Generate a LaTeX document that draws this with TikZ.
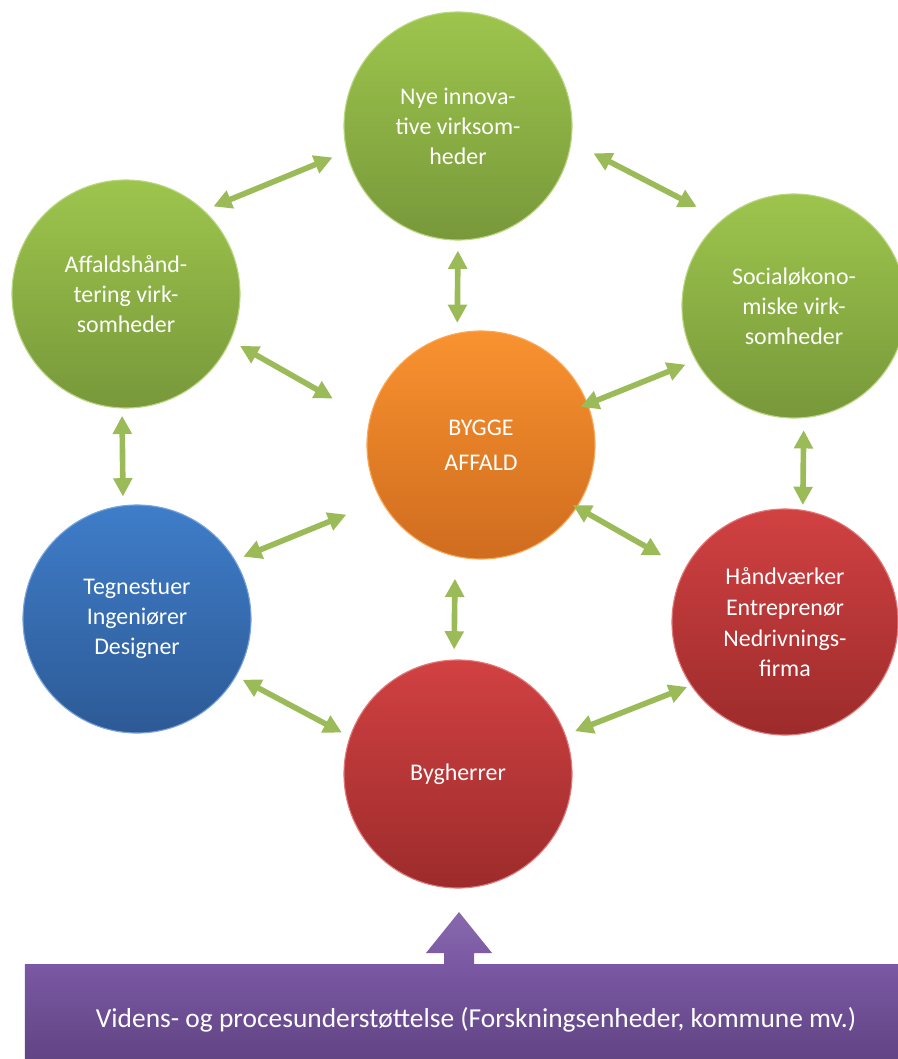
\documentclass[tikz,border=0pt]{standalone}
\usepackage{fontspec}
\setmainfont{Carlito}
\usepackage{xcolor}
\usetikzlibrary{arrows.meta}

\definecolor{gronlys}{HTML}{9DC54D}
\definecolor{gronmork}{HTML}{78983A}
\definecolor{oranlys}{HTML}{F9922F}
\definecolor{oranmork}{HTML}{CF6C1F}
\definecolor{blalys}{HTML}{3F7DC9}
\definecolor{blamork}{HTML}{2D5A96}
\definecolor{rodlys}{HTML}{D14142}
\definecolor{rodmork}{HTML}{9D2B2B}
\definecolor{lilalys}{HTML}{7A58A3}
\definecolor{lilamork}{HTML}{5D417F}
\definecolor{pilgron}{HTML}{9BBB59}

\tikzset{
  kreds/.style={circle, minimum size=5.7cm, inner sep=0pt, align=center,
    text=white, font=\fontsize{17}{21.3}\selectfont, line width=0.8pt},
  gron/.style={kreds, top color=gronlys, bottom color=gronmork, draw=gronlys!70!white},
  oran/.style={kreds, top color=oranlys, bottom color=oranmork, draw=oranlys!80!white},
  bla/.style={kreds, top color=blalys, bottom color=blamork, draw=blalys!70!white},
  rod/.style={kreds, top color=rodlys, bottom color=rodmork, draw=rodlys!70!white},
  pil/.style={draw=pilgron, line width=4pt,
    {Triangle[length=13pt,width=13pt]}-{Triangle[length=13pt,width=13pt]}},
}

\begin{document}
\begin{tikzpicture}[x=0.025cm, y=-0.025cm]
        \useasboundingbox (0,0) rectangle (897,1059);
        %cirkler
        \node[gron] (nye) at (458,126) {Nye innova-\\tive virksom-\\heder};
        \node[gron] (aff) at (126,294) {Affaldshånd-\\tering virk-\\somheder};
        \node[gron, minimum size=5.6cm] (soc) at (794,306) {Socialøkono-\\miske virk-\\somheder};
        \node[oran] (byg) at (481,445) {BYGGE\\[3.5pt]AFFALD};
        \node[bla] (teg) at (137,619) {Tegnestuer\\Ingeniører\\Designer};
        \node[rod, minimum size=5.65cm] (hvk) at (785,622) {Håndværker\\[1pt]Entreprenør\\[1pt]Nedrivnings-\\firma};
        \node[rod] (bhr) at (458,774) {Bygherrer};
        %pile mellem cirklerne
        \draw[pil, shorten <=0.25cm, shorten >=0.375cm] (aff.47) -- (nye.193);
        \draw[pil, shorten <=0.62cm, shorten >=0.7cm] (nye.-8) -- (soc.130);
        \draw[pil, shorten <=0.25cm, shorten >=0.25cm] (nye.-90) -- (byg.102);
        \draw[pil, shorten <=0.27cm, shorten >=1.05cm] (aff.-24) -- (byg.167);
        \draw[pil, shorten <=0.27cm, shorten >=-0.2cm] (soc.209) -- (byg.21);
        \draw[pil, shorten <=0.18cm, shorten >=0.22cm] (aff.-92) -- (teg.97);
        \draw[pil, shorten <=0.3cm, shorten >=0.12cm] (soc.-85) -- (hvk.81);
        \draw[pil, shorten <=0.22cm, shorten >=0.93cm] (teg.31) -- (byg.209);
        \draw[pil, shorten <=-0.12cm, shorten >=0.67cm] (byg.-33) -- (hvk.152);
        \draw[pil, shorten <=0.55cm, shorten >=0.25cm] (byg.-103) -- (bhr.92);
        \draw[pil, shorten <=0.18cm, shorten >=0.22cm] (teg.-30) -- (bhr.161);
        \draw[pil, shorten <=0.25cm, shorten >=0.1cm] (bhr.20) -- (hvk.214);
        %videns boks med pil op
        \node[rectangle, minimum width=22.55cm, minimum height=2.75cm, inner sep=0pt,
              top color=lilalys, bottom color=lilamork, text=white,
              font=\fontsize{19.5}{23}\selectfont] (viden) at (476,1020)
              {Videns- og procesunderstøttelse (Forskningsenheder, kommune mv.)};
        \path[top color=lilalys!90!white, bottom color=lilalys]
              (444,966) -- (444,953) -- (426,953) -- (459,912) -- (492,953)
              -- (474,953) -- (474,966) -- cycle;
\end{tikzpicture}
\end{document}
